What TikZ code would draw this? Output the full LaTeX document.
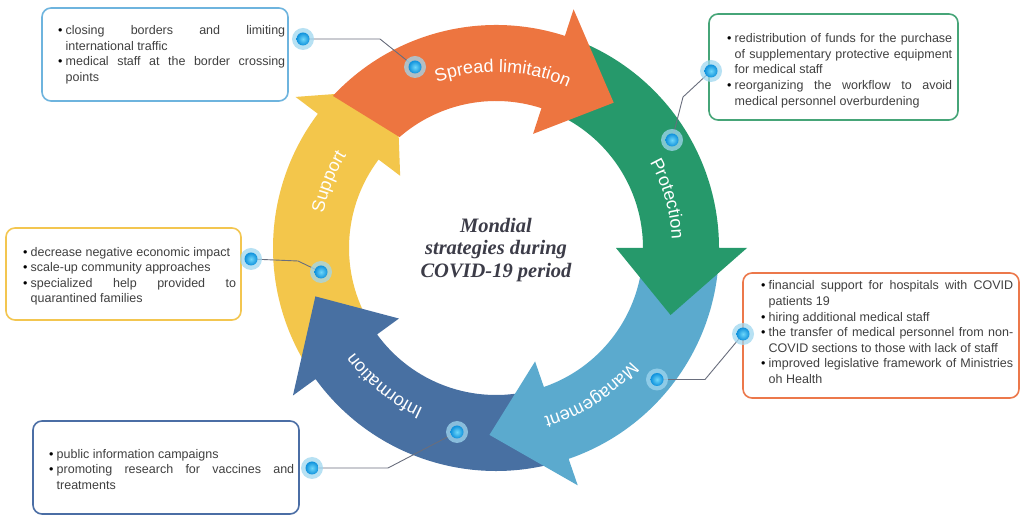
\documentclass[tikz,border=0pt]{standalone}
\usepackage{fontspec}
\setmainfont{Liberation Sans}
\newfontfamily\serifbi{Liberation Serif}
\usetikzlibrary{decorations.text}
\definecolor{cOrange}{RGB}{237,117,64}
\definecolor{cGreen}{RGB}{38,153,107}
\definecolor{cLight}{RGB}{91,170,206}
\definecolor{cDark}{RGB}{72,112,162}
\definecolor{cYellow}{RGB}{243,198,75}
\definecolor{bBlue}{RGB}{110,180,222}
\definecolor{bGreen}{RGB}{70,165,120}
\definecolor{bYellow}{RGB}{243,198,80}
\definecolor{bOrange}{RGB}{236,120,75}
\definecolor{bDark}{RGB}{75,110,165}
\definecolor{textgrey}{RGB}{64,64,64}
\definecolor{titlec}{RGB}{60,60,72}
\definecolor{haloc}{RGB}{160,215,240}
\definecolor{dotin}{RGB}{110,215,250}
\definecolor{dotout}{RGB}{15,145,220}
\definecolor{lineg}{RGB}{105,110,125}
\tolerance=10000
\hbadness=10000
\newcommand\bitem[1]{\par\noindent\hangindent=7.5pt\hangafter=1\makebox[7.5pt][l]{\textcolor{black}{•}}#1}
\newcommand\lblf{\fontsize{18}{20}\selectfont}
% color, tail outer angle, tail inner angle, base angle, tip angle
\newcommand\ringarrow[5]{%
  \fill[#1] (#2:223) arc[start angle=#2, end angle=#4, radius=223] -- (#4:251) -- (#5:187) -- (#4:120) -- (#4:147) arc[start angle=#4, end angle=#3, radius=147] -- cycle;}
% center angle, text
\newcommand\ringlabel[2]{%
  \path[decorate, decoration={text along path, text={|\lblf|#2}, text align=center, text color=white}]
    ({#1+40}:176) arc[start angle={#1+40}, end angle={#1-40}, radius=176];}
\newcommand\bluedot[2]{\node[halo] (#1) at (#2) {}; \shade[inner color=dotin, outer color=dotout] (#1.center) circle (6.5pt);}
\begin{document}
\begin{tikzpicture}[x=1pt,y=1pt,
  box/.style={draw=#1, line width=1.6pt, rounded corners=9pt, fill=white, inner sep=0pt},
  txt/.style={text width=#1, align=justify, inner sep=0pt, anchor=west, text=textgrey, font=\fontsize{12.5}{15.6}\selectfont},
  halo/.style={circle, fill=haloc, fill opacity=0.75, minimum size=22pt, inner sep=0pt},
  conn/.style={draw=lineg, line width=0.9pt}]
\useasboundingbox (0,0) rectangle (1024,521);
\fill[white] (0,0) rectangle (1024,521);
% ring
\begin{scope}[shift={(496,273)}]
  \ringarrow{cYellow}{211}{211}{143}{122}
  \ringarrow{cDark}{-76}{-76}{-144}{-165}
  \ringarrow{cLight}{-5}{-5}{-71}{-92}
  \ringarrow{cGreen}{67}{67}{0}{-21}
  \ringarrow{cOrange}{137}{131}{72}{51}
  \ringlabel{87.8}{Spread limitation}
  \ringlabel{16}{Protection}
  \ringlabel{-57}{Management}
  \ringlabel{-129}{Information}
  \ringlabel{158.5}{Support}
\end{scope}
\node[font=\serifbi\bfseries\itshape\fontsize{20.5}{22.6}\selectfont, text=titlec, align=center] (title) at (496,271) {Mondial\\strategies during\\COVID-19 period};
% boxes
\node[box=bBlue, minimum width=246pt, minimum height=93pt] (b1) at (165,466.5) {};
\node[box=bGreen, minimum width=249pt, minimum height=106pt] (b2) at (833.5,454) {};
\node[box=bYellow, minimum width=235pt, minimum height=92pt] (b3) at (123.5,247) {};
\node[box=bOrange, minimum width=276pt, minimum height=125pt] (b4) at (881,185.5) {};
\node[box=bDark, minimum width=266pt, minimum height=93pt] (b5) at (166,53.5) {};
\node[txt=227pt] (t1) at (58,469.5) {\bitem{closing borders and limiting\linebreak international traffic}\bitem{medical staff at the border crossing\linebreak points}\par};
\node[txt=225pt] (t2) at (727,453.5) {\bitem{redistribution of funds for the purchase\linebreak of supplementary protective equipment\linebreak for medical staff}\bitem{reorganizing the workflow to avoid\linebreak medical personnel overburdening}\par};
\node[txt=213pt] (t3) at (23,248) {\bitem{decrease negative economic impact}\bitem{scale-up community approaches}\bitem{specialized help provided to\linebreak quarantined families}\par};
\node[txt=252pt] (t4) at (761,192) {\bitem{financial support for hospitals with COVID\linebreak patients 19}\bitem{hiring additional medical staff}\bitem{the transfer of medical personnel from non-\linebreak COVID sections to those with lack of staff}\bitem{improved legislative framework of Ministries\linebreak oh Health}\par};
\node[txt=245pt] (t5) at (49,55) {\bitem{public information campaigns}\bitem{promoting research for vaccines and\linebreak treatments}\par};
% connector points
\coordinate (p1b) at (303,482); \coordinate (k1) at (380,482); \coordinate (p1r) at (415,454);
\coordinate (p2b) at (711,450); \coordinate (k2) at (683,424); \coordinate (p2r) at (672,381);
\coordinate (p3b) at (251,262); \coordinate (k3) at (298,260); \coordinate (p3r) at (321,249);
\coordinate (p4b) at (743,187); \coordinate (k4) at (705,141.5); \coordinate (p4r) at (657,141.5);
\coordinate (p5b) at (312,53); \coordinate (k5) at (388,53); \coordinate (p5r) at (457,89);
\draw[conn] (p1b) -- (k1) -- (p1r);
\draw[conn] (p2b) -- (k2) -- (p2r);
\draw[conn] (p3b) -- (k3) -- (p3r);
\draw[conn] (p4b) -- (k4) -- (p4r);
\draw[conn] (p5b) -- (k5) -- (p5r);
\bluedot{d1b}{p1b}\bluedot{d1r}{p1r}
\bluedot{d2b}{p2b}\bluedot{d2r}{p2r}
\bluedot{d3b}{p3b}\bluedot{d3r}{p3r}
\bluedot{d4b}{p4b}\bluedot{d4r}{p4r}
\bluedot{d5b}{p5b}\bluedot{d5r}{p5r}
\end{tikzpicture}
\end{document}
